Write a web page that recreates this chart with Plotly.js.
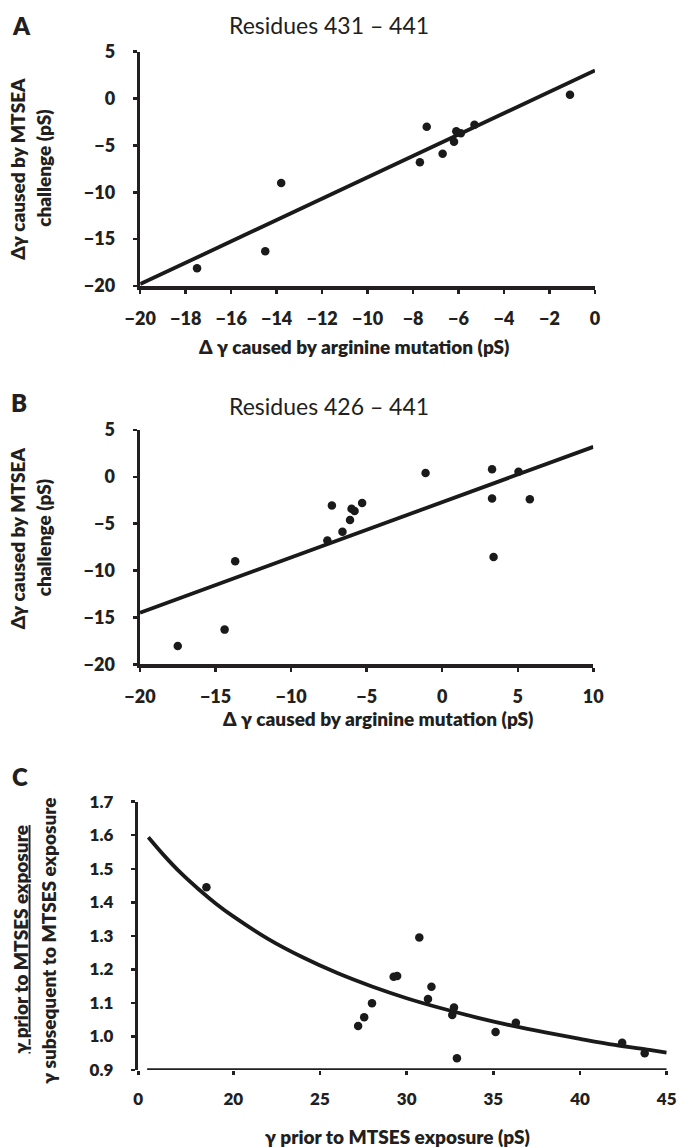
<!DOCTYPE html>
<html><head><meta charset="utf-8">
<script src="https://cdn.plot.ly/plotly-3.0.1.min.js"></script>
<style>html,body{margin:0;padding:0;background:#fff}#chart{width:679px;height:1147px}</style>
</head><body><div id="chart"></div>
<script>
// Panel A: residues 431-441
const aX = [-17.5, -14.5, -13.8, -7.7, -7.4, -6.7, -6.2, -6.1, -5.9, -5.3, -1.1];
const aY = [-18.1, -16.3, -9.0, -6.8, -3.0, -5.9, -4.6, -3.5, -3.7, -2.8, 0.4];
const aFitX = [-20, 0];
const aFitY = [-19.8, 3.0];
// Panel B: residues 426-441
const bX = [-17.5, -14.4, -13.7, -7.6, -7.3, -6.6, -6.1, -6.0, -5.8, -5.3, -1.1, 3.3, 3.3, 3.4, 5.05, 5.8];
const bY = [-18.05, -16.3, -9.0, -6.8, -3.05, -5.85, -4.6, -3.4, -3.65, -2.8, 0.4, 0.8, -2.3, -8.55, 0.55, -2.4];
const bFitX = [-20, 10];
const bFitY = [-14.5, 3.2];
// Panel C
const cX = [18.45, 27.2, 27.55, 28.0, 29.25, 29.45, 30.73, 31.23, 31.43, 32.73, 32.63, 32.9, 35.13, 36.3, 42.43, 43.73];
const cY = [1.445, 1.031, 1.057, 1.099, 1.178, 1.180, 1.295, 1.112, 1.148, 1.086, 1.064, 0.935, 1.013, 1.041, 0.981, 0.950];
const cFitX = [15.1, 16, 17, 18, 19, 20, 22, 24, 26, 28, 30, 32, 34, 36, 38, 40, 42, 44, 45];
const cFitY = [1.594, 1.540, 1.486, 1.439, 1.396, 1.358, 1.291, 1.236, 1.189, 1.149, 1.114, 1.084, 1.057, 1.033, 1.012, 0.993, 0.975, 0.960, 0.952];

const aTicksX = [-20, -18, -16, -14, -12, -10, -8, -6, -4, -2, 0];
const aTicksY = [-20, -15, -10, -5, 0, 5];
const bTicksX = [-20, -15, -10, -5, 0, 5, 10];
const bTicksY = [-20, -15, -10, -5, 0, 5];
const cTickVals = [14.52, 20, 25, 30, 35, 40, 45];
const cTickText = ['0', '20', '25', '30', '35', '40', '45'];
const cTicksY = [0.9, 1.0, 1.1, 1.2, 1.3, 1.4, 1.5, 1.6, 1.7];
const cTicksYText = ['0.9', '1.0', '1.1', '1.2', '1.3', '1.4', '1.5', '1.6', '1.7'];

const W = 679, H = 1147;
const px = v => v / W;
const py = v => 1 - v / H;
const INK = '#231f20';
const FONT = 'Lato, "Open Sans", sans-serif';
const BOLD = 800;

const mk = {color: '#1a1a1a', size: 8.5};
const fitLine = {color: '#1a1a1a', width: 3.8};

const data = [
  {x: aFitX, y: aFitY, mode: 'lines', line: fitLine, xaxis: 'x', yaxis: 'y', hoverinfo: 'skip'},
  {x: aX, y: aY, mode: 'markers', marker: mk, xaxis: 'x', yaxis: 'y'},
  {x: bFitX, y: bFitY, mode: 'lines', line: fitLine, xaxis: 'x2', yaxis: 'y2', hoverinfo: 'skip'},
  {x: bX, y: bY, mode: 'markers', marker: mk, xaxis: 'x2', yaxis: 'y2'},
  {x: cFitX, y: cFitY, mode: 'lines', line: Object.assign({shape: 'spline'}, fitLine), xaxis: 'x3', yaxis: 'y3', hoverinfo: 'skip'},
  {x: cX, y: cY, mode: 'markers', marker: mk, xaxis: 'x3', yaxis: 'y3'}
];

function ax(extra, size) {
  return Object.assign({
    showgrid: false, zeroline: false, showline: true, linewidth: 3.5, linecolor: INK,
    ticks: 'outside', ticklen: 4, tickwidth: 2.5, tickcolor: INK,
    tickfont: {family: FONT, size: size || 18, weight: BOLD, color: INK},
    ticklabelstandoff: 10, fixedrange: true
  }, extra);
}

const tFont = {family: FONT, size: 23, color: INK};
const lFont = {family: FONT, size: 24, color: INK, weight: BOLD};
const axFont = {family: FONT, size: 19, color: INK, weight: BOLD};

function ann(text, x, y, font, angle) {
  return {text: text, x: px(x), y: py(y), xref: 'paper', yref: 'paper', showarrow: false,
          xanchor: 'center', yanchor: 'middle', font: font, textangle: angle || 0};
}

const layout = {
  width: W, height: H, margin: {l: 0, r: 0, t: 0, b: 0},
  paper_bgcolor: '#fff', plot_bgcolor: '#fff', showlegend: false,
  font: {family: FONT, color: INK},
  xaxis: ax({domain: [px(140.2), px(595)], range: [-20, 0], tickvals: aTicksX, anchor: 'y'}),
  yaxis: ax({domain: [py(286), py(51.7)], range: [-20, 5], tickvals: aTicksY, anchor: 'x', ticklabelstandoff: 14}),
  xaxis2: ax({domain: [px(140), px(593.3)], range: [-20, 10], tickvals: bTicksX, anchor: 'y2'}),
  yaxis2: ax({domain: [py(664.3), py(430)], range: [-20, 5], tickvals: bTicksY, anchor: 'x2', ticklabelstandoff: 14}),
  xaxis3: ax({domain: [px(138.3), px(666.7)], range: [14.52, 45], tickvals: cTickVals, ticktext: cTickText, anchor: 'y3', showline: false}, 17),
  yaxis3: ax({domain: [py(1070), py(801.7)], range: [0.9, 1.7], tickvals: cTicksY, ticktext: cTicksYText, anchor: 'x3', ticklabelstandoff: 14}, 17),
  shapes: [
    {type: 'line', xref: 'x3', yref: 'y3', x0: 15.03, x1: 45, y0: 0.9, y1: 0.9, line: {color: INK, width: 3.5}}
  ],
  annotations: [
    ann('A', 21, 25, lFont),
    ann('B', 19, 403, lFont),
    ann('C', 20, 776.7, lFont),
    ann('Residues 431 – 441', 329, 25, tFont),
    ann('Residues 426 – 441', 329, 405.7, tFont),
    ann('Δ γ caused by arginine mutation (pS)', 354, 346.7, axFont),
    ann('Δ γ caused by arginine mutation (pS)', 377.5, 718.3, axFont),
    ann('γ prior to MTSES exposure (pS)', 397, 1136.7, axFont),
    ann('Δγ caused by MTSEA', 17.4, 168.3, axFont, -90),
    ann('challenge (pS)', 43.5, 168.3, axFont, -90),
    ann('Δγ caused by MTSEA', 17, 538.3, axFont, -90),
    ann('challenge (pS)', 43, 538.3, axFont, -90),
    ann('<u>γ prior to MTSES exposure</u>', 19.6, 939, axFont, -90),
    ann('γ subsequent to MTSES exposure', 47.8, 941, axFont, -90)
  ]
};

Plotly.newPlot('chart', data, layout, {staticPlot: true, displayModeBar: false});
</script>
</body></html>
